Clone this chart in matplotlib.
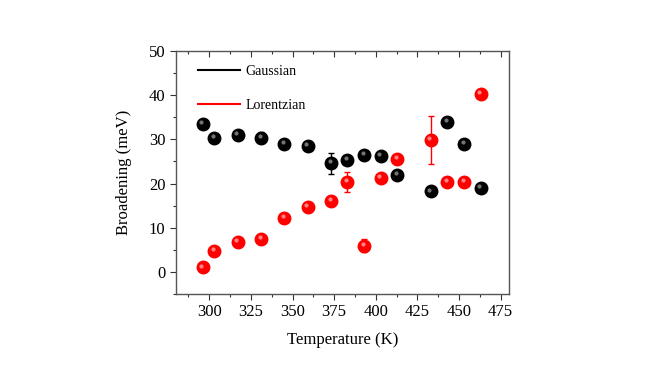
import matplotlib
matplotlib.use("Agg")
import matplotlib.pyplot as plt
from matplotlib.lines import Line2D

plt.rcParams['font.family'] = ['Liberation Serif', 'DejaVu Serif']
plt.rcParams['mathtext.fontset'] = 'stix'

# temperatures (K)
temps = [296, 303, 317, 331, 345, 359, 373, 383, 393, 403, 413, 433, 443, 453, 463]

# Gaussian broadening (meV) and errors
gauss = [33.4, 30.3, 31.0, 30.4, 29.0, 28.4, 24.6, 25.3, 26.5, 26.3, 21.9, 18.2, 34.0, 29.0, 18.9]
gauss_err = [0.4, 0.3, 0.3, 1.2, 0.3, 0.3, 2.4, 0.3, 0.3, 0.3, 0.4, 0.3, 0.3, 0.3, 0.3]

# Lorentzian broadening (meV) and errors
lorentz = [1.0, 4.8, 6.8, 7.5, 12.3, 14.6, 16.1, 20.3, 5.9, 21.2, 25.6, 29.9, 20.4, 20.4, 40.2]
lorentz_err = [0.3, 0.3, 0.3, 0.3, 0.3, 0.3, 1.1, 2.3, 1.5, 0.3, 0.3, 5.4, 0.3, 0.3, 0.3]

fig = plt.figure(figsize=(6.67, 3.75), dpi=100)
ax = fig.add_axes([176/667, 1-294/375, (509-176)/667, (294-51)/375])


def spheres(x, y, yerr, color, shine):
    ax.errorbar(x, y, yerr=yerr, fmt='none', ecolor=color, elinewidth=1.0,
                capsize=2.5, capthick=1.0, zorder=2)
    ax.plot(x, y, 'o', ms=9, color=color, mec=color, zorder=3)
    # small highlight to give the shaded ball look
    xs = [v - 0.8 for v in x]
    ys = [v + 0.45 for v in y]
    ax.plot(xs, ys, 'o', ms=3, color=shine, mec='none', alpha=0.75, zorder=4)


spheres(temps, gauss, gauss_err, 'black', '#9a9a9a')
spheres(temps, lorentz, lorentz_err, '#ff0000', '#ffb0b0')

ax.set_xlim(280, 480)
ax.set_ylim(-5, 50)
ax.set_xticks([300, 325, 350, 375, 400, 425, 450, 475])
ax.set_xticks([287.5, 312.5, 337.5, 362.5, 387.5, 412.5, 437.5, 462.5], minor=True)
ax.set_yticks([0, 10, 20, 30, 40, 50])
ax.set_yticks([-5, 5, 15, 25, 35, 45], minor=True)
ax.tick_params(which='both', direction='out', labelsize=12, width=0.8, color='#333333')
ax.tick_params(which='major', length=4)
ax.tick_params(which='minor', length=2.5)

top = ax.secondary_xaxis('top')
top.set_xticks([300, 325, 350, 375, 400, 425, 450, 475])
top.set_xticks([287.5, 312.5, 337.5, 362.5, 387.5, 412.5, 437.5, 462.5], minor=True)
top.tick_params(which='both', direction='in', labeltop=False, width=0.8, color='#333333')
top.tick_params(which='major', length=4)
top.tick_params(which='minor', length=2.5)
top.spines['top'].set_visible(False)

for s in ax.spines.values():
    s.set_linewidth(1.0)
    s.set_color('#555555')

ax.set_xlabel('Temperature (K)', fontsize=12, labelpad=8)
ax.set_ylabel('Broadening (meV)', fontsize=12, labelpad=12)

handles = [Line2D([0], [0], color='black', lw=1.5),
           Line2D([0], [0], color='#ff0000', lw=1.5)]
ax.legend(handles, ['Gaussian', 'Lorentzian'], loc='upper left', frameon=False,
          fontsize=10, handlelength=3.0, labelspacing=1.5, handletextpad=0.4,
          bbox_to_anchor=(0.025, 1.0), borderaxespad=0.6)

fig.savefig('out.png', dpi=100)
